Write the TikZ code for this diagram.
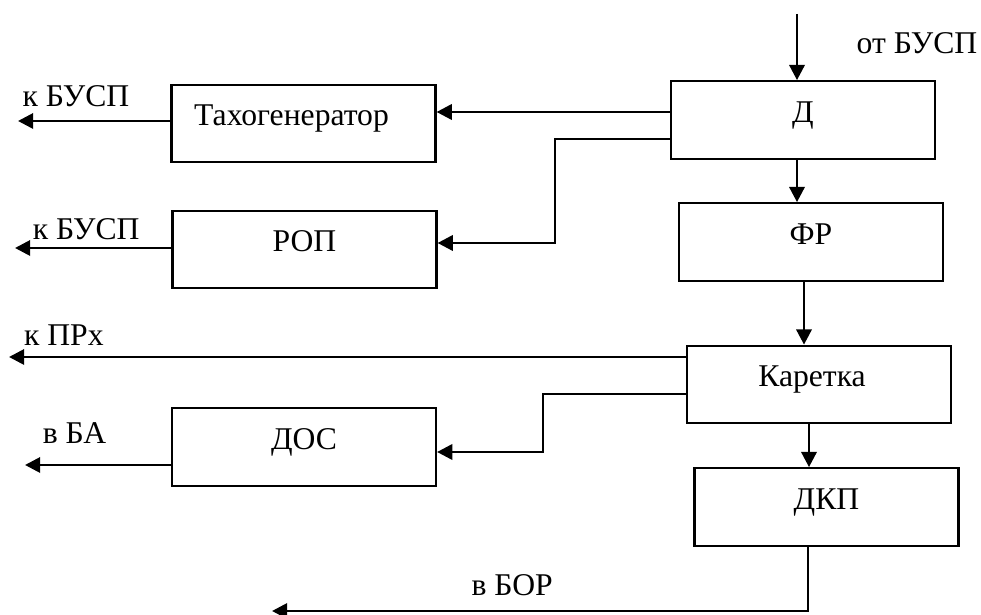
\documentclass[tikz,border=0pt]{standalone}
\usepackage{fontspec}
\setmainfont{Liberation Serif}
\usetikzlibrary{arrows.meta}
\tikzstyle{blk} = [draw, rectangle, line width=1.5pt, minimum width=6.6cm, minimum height=1.94cm, text height=0.6cm, text depth=0.475cm, align=center]
\tikzstyle{wire} = [-{Triangle[length=0.38cm,width=0.38cm]}, line width=2pt]
\tikzstyle{lbl} = [anchor=base, inner sep=0pt]

\begin{document}
\begin{tikzpicture}[x=0.025cm, y=-0.025cm, font=\fontsize{22.5}{27}\selectfont]
    \useasboundingbox (0,0) rectangle (981,615);
    % blocks
    \node[blk] (dvig) at (803,120) {Д};
    \node[blk] (taho) at (303.5,123.5) {\hspace*{-0.6cm}Тахогенератор};
    \node[blk] (fr) at (811,242) {ФР};
    \node[blk] (rop) at (304.5,249.5) {РОП};
    \node[blk] (kar) at (819,384.5) {\hspace*{-0.35cm}Каретка};
    \node[blk] (dos) at (304,447) {ДОС};
    \node[blk] (dkp) at (826.5,507) {ДКП};
    % free ends
    \coordinate (vhod) at (797,14);
    \coordinate (busp1) at (18,121);
    \coordinate (busp2) at (15,248);
    \coordinate (prx) at (9,357);
    \coordinate (ba) at (25,465);
    \coordinate (bor) at (272,611);
    % input
    \draw[wire] (vhod) -- (vhod |- dvig.north);
    \node[lbl] (otbusp) at (917,54) {от БУСП};
    % Д
    \draw[wire] (dvig.west |- 0,112) -- (taho.east |- 0,112);
    \draw[wire] (dvig.west |- 0,139) -| (555,243) -- (rop.east |- 0,243);
    \draw[wire] (dvig.south -| 797,0) -- (fr.north -| 797,0);
    \draw[wire] (taho.west |- busp1) -- node[lbl, pos=0.62, yshift=0.35cm] (kbusp1) {к БУСП} (busp1);
    \draw[wire] (rop.west |- busp2) -- node[lbl, pos=0.545, yshift=0.21cm] (kbusp2) {к БУСП} (busp2);
    \draw[wire] (fr.south -| 804,0) -- (kar.north -| 804,0);
    % Каретка
    \draw[wire] (kar.west |- prx) -- node[lbl, pos=0.919, yshift=0.275cm] (kprx) {к ПРх} (prx);
    \draw[wire] (kar.west |- 0,394) -| (543,452) -- (dos.east |- 0,452);
    \draw[wire] (dos.west |- ba) -- node[lbl, pos=0.66, yshift=0.525cm] (vba) {в БА} (ba);
    \draw[wire] (kar.south -| 809,0) -- (dkp.north -| 809,0);
    \draw[wire] (dkp.south -| 808,0) |- node[lbl, pos=0.776, yshift=0.375cm] (vbor) {в БОР} (bor);
\end{tikzpicture}
\end{document}
